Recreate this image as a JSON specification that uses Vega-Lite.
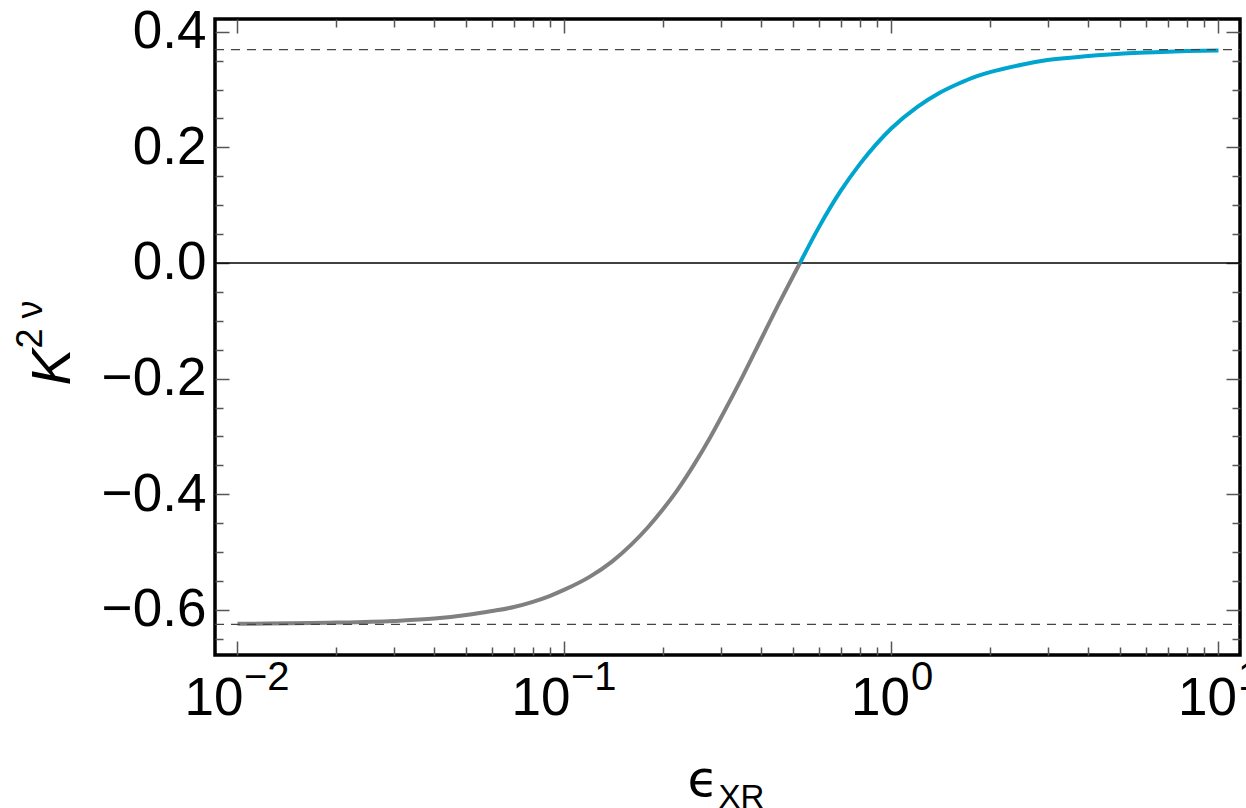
{
  "$schema": "https://vega.github.io/schema/vega-lite/v6.json",
  "width": 1025,
  "height": 636,
  "autosize": "none",
  "padding": {"left": 215, "top": 19, "right": 6, "bottom": 153},
  "config": {
    "view": {"stroke": "black", "strokeWidth": 3.5},
    "font": "Liberation Sans",
    "axis": {
      "domain": false,
      "grid": false,
      "tickColor": "#555555",
      "tickWidth": 1.5,
      "labelFont": "Liberation Sans",
      "titleFont": "Liberation Sans",
      "labelColor": "black",
      "titleColor": "black",
      "titleFontWeight": "normal",
      "labelFlush": false,
      "labelOverlap": false,
      "labelBound": false
    }
  },
  "resolve": {"axis": {"x": "independent", "y": "independent"}},
  "layer": [
    {
      "data": {"values": [{"level": 0}]},
      "mark": {"type": "rule", "color": "black", "strokeWidth": 1.3},
      "encoding": {
        "x": {
          "datum": 0.008535,
          "type": "quantitative",
          "scale": {"type": "log", "domain": [0.008535, 11.635], "nice": false},
          "axis": {
            "orient": "top",
            "values": [0.01, 0.02, 0.03, 0.04, 0.05, 0.06, 0.07, 0.08, 0.09, 0.1, 0.2, 0.3, 0.4, 0.5, 0.6, 0.7, 0.8, 0.9, 1, 2, 3, 4, 5, 6, 7, 8, 9, 10],
            "labels": false,
            "title": null,
            "tickSize": {"condition": {"test": "abs(log(datum.value)/LN10 - round(log(datum.value)/LN10)) < 0.001", "value": -14}, "value": -8}
          }
        },
        "x2": {"datum": 11.635},
        "y": {
          "field": "level",
          "type": "quantitative",
          "scale": {"domain": [-0.678, 0.422], "nice": false, "zero": false},
          "axis": {
            "orient": "right",
            "values": [-0.65, -0.6, -0.55, -0.5, -0.45, -0.4, -0.35, -0.3, -0.25, -0.2, -0.15, -0.1, -0.05, 0, 0.05, 0.1, 0.15, 0.2, 0.25, 0.3, 0.35, 0.4],
            "labels": false,
            "title": null,
            "tickSize": {"condition": {"test": "abs(datum.value*5 - round(datum.value*5)) < 0.001", "value": -14}, "value": -8}
          }
        }
      }
    },
    {
      "data": {
        "values": [
          {"eps": 0.01, "K": -0.624, "part": "below"},
          {"eps": 0.02, "K": -0.622, "part": "below"},
          {"eps": 0.03, "K": -0.619, "part": "below"},
          {"eps": 0.04, "K": -0.615, "part": "below"},
          {"eps": 0.05, "K": -0.609, "part": "below"},
          {"eps": 0.06, "K": -0.602, "part": "below"},
          {"eps": 0.07, "K": -0.595, "part": "below"},
          {"eps": 0.08, "K": -0.586, "part": "below"},
          {"eps": 0.09, "K": -0.576, "part": "below"},
          {"eps": 0.1, "K": -0.565, "part": "below"},
          {"eps": 0.12, "K": -0.542, "part": "below"},
          {"eps": 0.14, "K": -0.516, "part": "below"},
          {"eps": 0.16, "K": -0.487, "part": "below"},
          {"eps": 0.18, "K": -0.457, "part": "below"},
          {"eps": 0.2, "K": -0.426, "part": "below"},
          {"eps": 0.22, "K": -0.395, "part": "below"},
          {"eps": 0.25, "K": -0.347, "part": "below"},
          {"eps": 0.28, "K": -0.3, "part": "below"},
          {"eps": 0.3, "K": -0.269, "part": "below"},
          {"eps": 0.35, "K": -0.197, "part": "below"},
          {"eps": 0.4, "K": -0.131, "part": "below"},
          {"eps": 0.45, "K": -0.073, "part": "below"},
          {"eps": 0.5, "K": -0.023, "part": "below"},
          {"eps": 0.525, "K": 0.0, "part": "below"},
          {"eps": 0.525, "K": 0.0, "part": "above"},
          {"eps": 0.6, "K": 0.062, "part": "above"},
          {"eps": 0.7, "K": 0.125, "part": "above"},
          {"eps": 0.8, "K": 0.171, "part": "above"},
          {"eps": 0.9, "K": 0.206, "part": "above"},
          {"eps": 1.0, "K": 0.233, "part": "above"},
          {"eps": 1.2, "K": 0.27, "part": "above"},
          {"eps": 1.4, "K": 0.294, "part": "above"},
          {"eps": 1.6, "K": 0.31, "part": "above"},
          {"eps": 1.8, "K": 0.322, "part": "above"},
          {"eps": 2.0, "K": 0.33, "part": "above"},
          {"eps": 2.5, "K": 0.343, "part": "above"},
          {"eps": 3.0, "K": 0.351, "part": "above"},
          {"eps": 4.0, "K": 0.358, "part": "above"},
          {"eps": 5.0, "K": 0.362, "part": "above"},
          {"eps": 6.0, "K": 0.364, "part": "above"},
          {"eps": 7.0, "K": 0.3655, "part": "above"},
          {"eps": 8.0, "K": 0.3665, "part": "above"},
          {"eps": 10.0, "K": 0.3675, "part": "above"}
        ]
      },
      "mark": {"type": "line", "strokeWidth": 4, "interpolate": "monotone"},
      "encoding": {
        "x": {
          "field": "eps",
          "type": "quantitative",
          "scale": {"type": "log", "domain": [0.008535, 11.635], "nice": false},
          "axis": {
            "orient": "bottom",
            "values": [0.01, 0.02, 0.03, 0.04, 0.05, 0.06, 0.07, 0.08, 0.09, 0.1, 0.2, 0.3, 0.4, 0.5, 0.6, 0.7, 0.8, 0.9, 1, 2, 3, 4, 5, 6, 7, 8, 9, 10],
            "tickSize": {"condition": {"test": "abs(log(datum.value)/LN10 - round(log(datum.value)/LN10)) < 0.001", "value": -14}, "value": -8},
            "labelExpr": "abs(log(datum.value)/LN10 - round(log(datum.value)/LN10)) < 0.001 ? '10' : ''",
            "labelFontSize": 53,
            "labelAlign": "right",
            "labelBaseline": "alphabetic",
            "labelPadding": 73,
            "labelOffset": {"condition": {"test": "datum.value < 0.5", "value": 5.5}, "value": 18},
            "title": "ϵ",
            "titleFont": "DejaVu Sans",
            "titleFontSize": 50,
            "titleAlign": "left",
            "titleBaseline": "alphabetic",
            "titleX": 472,
            "titleY": 140
          }
        },
        "y": {
          "field": "K",
          "type": "quantitative",
          "scale": {"domain": [-0.678, 0.422], "nice": false, "zero": false},
          "axis": {
            "orient": "left",
            "values": [-0.65, -0.6, -0.55, -0.5, -0.45, -0.4, -0.35, -0.3, -0.25, -0.2, -0.15, -0.1, -0.05, 0, 0.05, 0.1, 0.15, 0.2, 0.25, 0.3, 0.35, 0.4],
            "format": ".1f",
            "tickSize": {"condition": {"test": "abs(datum.value*5 - round(datum.value*5)) < 0.001", "value": -14}, "value": -8},
            "labelExpr": "abs(datum.value*5 - round(datum.value*5)) < 0.001 ? replace(datum.label, '-', '−') : ''",
            "labelFontSize": 53,
            "labelPadding": 23,
            "title": "K",
            "titleFontSize": 55,
            "titleFontStyle": "italic",
            "titleAngle": -90,
            "titleAlign": "left",
            "titleBaseline": "alphabetic",
            "titleX": -146,
            "titleY": 366
          }
        },
        "color": {
          "field": "part",
          "type": "nominal",
          "scale": {"domain": ["below", "above"], "range": ["#808080", "#00a5cf"]},
          "legend": null
        }
      }
    },
    {
      "data": {"values": [{"level": 0.369}, {"level": -0.625}]},
      "mark": {"type": "rule", "color": "#444444", "strokeWidth": 1.3, "strokeDash": [9, 7]},
      "encoding": {
        "x": {
          "datum": 0.008535,
          "type": "quantitative",
          "scale": {"type": "log", "domain": [0.008535, 11.635], "nice": false},
          "axis": {
            "orient": "bottom",
            "values": [0.01, 0.1, 1, 10],
            "ticks": false,
            "labelExpr": "datum.value < 0.05 ? '−2' : datum.value < 0.5 ? '−1' : datum.value < 5 ? '0' : '1'",
            "labelFontSize": 40,
            "labelAlign": "left",
            "labelBaseline": "alphabetic",
            "labelPadding": 34,
            "labelOffset": {"condition": {"test": "datum.value < 0.5", "value": 6}, "value": 19},
            "title": "XR",
            "titleFontSize": 33,
            "titleAlign": "left",
            "titleBaseline": "alphabetic",
            "titleX": 503,
            "titleY": 152
          }
        },
        "x2": {"datum": 11.635},
        "y": {
          "field": "level",
          "type": "quantitative",
          "scale": {"domain": [-0.678, 0.422], "nice": false, "zero": false},
          "axis": {
            "orient": "left",
            "ticks": false,
            "labels": false,
            "title": "2  ν",
            "titleFontSize": 36,
            "titleAngle": -90,
            "titleAlign": "left",
            "titleBaseline": "alphabetic",
            "titleX": -174,
            "titleY": 329
          }
        }
      }
    }
  ]
}
